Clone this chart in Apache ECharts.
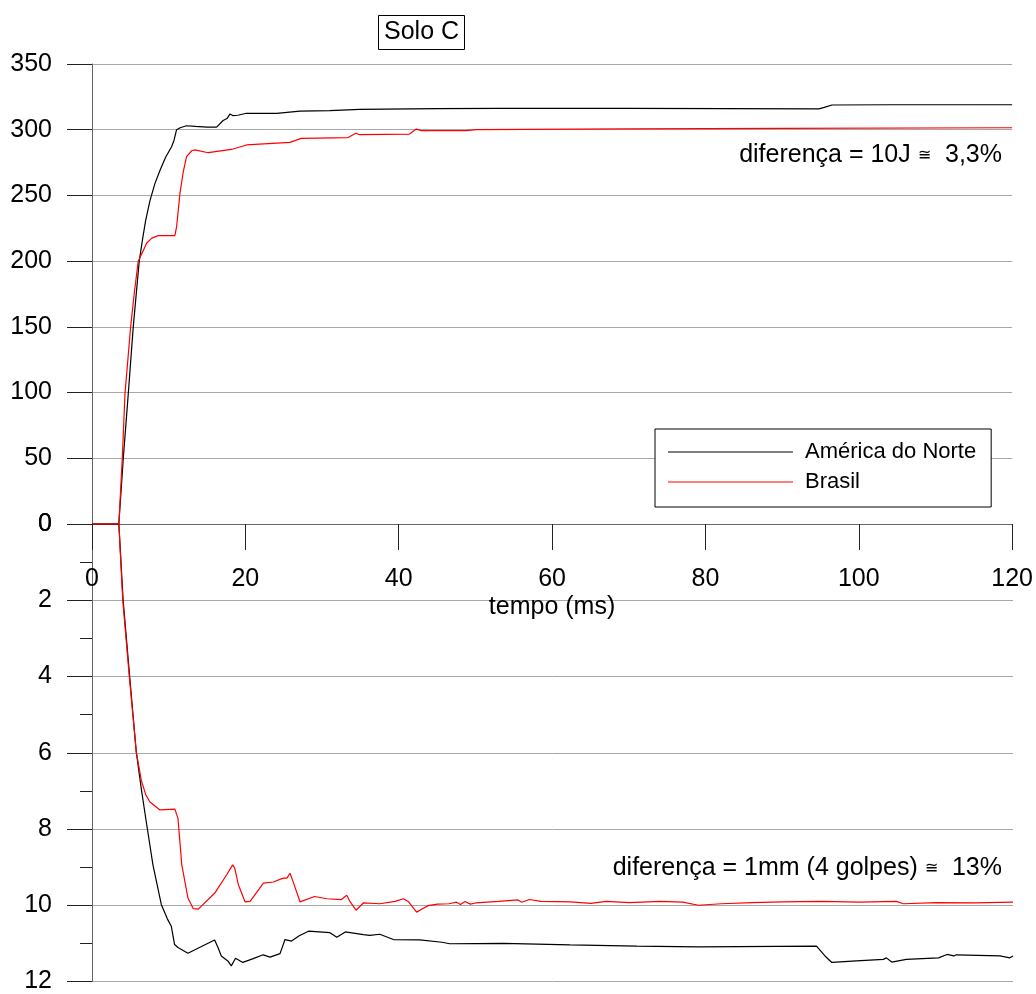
<!DOCTYPE html>
<html>
<head>
<meta charset="utf-8">
<script src="https://cdn.jsdelivr.net/npm/echarts@6/dist/echarts.min.js"></script>
<style>
html,body{margin:0;padding:0;background:#fff;}
#chart{width:1036px;height:994px;}
</style>
</head>
<body>
<div id="chart"></div>
<script>
// ---- Data ----
const seriesNames = ['América do Norte', 'Brasil'];
const xTicks = [0, 20, 40, 60, 80, 100, 120];
const energyTicks = [0, 50, 100, 150, 200, 250, 300, 350];
const dispTicks = [0, 2, 4, 6, 8, 10, 12];

// Energy (top panel), América do Norte
const naTopT = [0, 3.5, 4.08, 4.73, 5.38, 6.16, 6.6, 7.0, 7.56, 8.2, 8.86, 9.6, 10.38, 10.7, 11.03, 11.5, 12.33, 13.5, 15, 16.25, 16.46, 17.1, 17.6, 18.0, 18.4, 19, 20.15, 24.1, 27.1, 31, 34.9, 45, 53.2, 70, 94.8, 95.5, 96.5, 104, 120];
const naTopV = [0, 0, 50, 99, 150, 200, 217, 231, 246, 259, 269, 279, 287, 292, 300, 301.5, 303, 302.5, 302, 302, 302.3, 307, 308.5, 312, 310.7, 311, 312.5, 312.5, 314.2, 314.5, 315.5, 316, 316.3, 316.3, 315.9, 317, 318.8, 319, 319];
// Energy (top panel), Brasil
const brTopT = [0, 3.5, 3.95, 4.3, 5.04, 5.5, 6.03, 6.68, 7.12, 7.8, 8.64, 10.81, 11.03, 11.47, 11.9, 12.33, 13.0, 13.42, 15.16, 18.4, 20.15, 25.8, 27.3, 33.4, 34.4, 34.9, 41.4, 42.3, 42.96, 48.8, 50.1, 70, 90, 120];
const brTopV = [0, 0, 50, 99, 150, 175, 200, 208, 213.6, 217.5, 219.4, 219.4, 226, 251.6, 268, 279.5, 284, 284.6, 282.5, 285.3, 288.4, 290.4, 293.4, 294, 297.3, 296.2, 296.7, 300.5, 299.3, 299.3, 300, 300.6, 301, 301.5];

// Displacement (bottom panel), América do Norte
const naBotT = [0, 3.5, 4.05, 4.9, 5.77, 6.42, 7.07, 7.94, 9.03, 9.8, 10.33, 10.76, 11.2, 12.5, 14.2, 15.98, 16.4, 16.85, 17.7, 18.15, 18.7, 19.65, 21, 22.3, 23.2, 24.5, 25.15, 26, 27, 28.2, 31, 31.9, 33, 35.35, 36.2, 37.5, 39.26, 42.7, 45.6, 46.6, 53.6, 62.3, 71, 79, 94.4, 95.5, 96.4, 99.6, 103.1, 103.5, 104.2, 106.1, 110.3, 111.4, 112.3, 112.6, 118.3, 119.6, 120];
const naBotD = [0, 0, 1.98, 3.98, 5.98, 6.94, 7.81, 8.94, 9.98, 10.35, 10.55, 11.03, 11.11, 11.26, 11.09, 10.91, 11.1, 11.33, 11.46, 11.59, 11.39, 11.5, 11.4, 11.3, 11.36, 11.27, 10.9, 10.94, 10.8, 10.68, 10.72, 10.84, 10.7, 10.77, 10.79, 10.76, 10.9, 10.91, 10.97, 11.01, 11.0, 11.04, 11.07, 11.09, 11.07, 11.33, 11.5, 11.46, 11.42, 11.38, 11.49, 11.42, 11.38, 11.29, 11.33, 11.3, 11.33, 11.38, 11.33];
// Displacement (bottom panel), Brasil
const brBotT = [0, 3.5, 4.0, 4.85, 5.77, 6.42, 7.0, 7.55, 8.86, 10.8, 11.2, 11.7, 12.5, 13.2, 13.85, 16, 17.55, 18.33, 18.6, 19.07, 19.94, 20.6, 22.33, 23.63, 24.9, 25.4, 25.8, 26.2, 27.1, 29, 30.6, 32.5, 33.2, 33.6, 34.4, 35.35, 37.5, 39.5, 40.56, 41.2, 42.3, 43.0, 43.8, 45, 46.5, 47.5, 48, 48.6, 49.3, 50, 53, 55.5, 56, 57, 58.5, 62.3, 65, 67, 70, 74, 77, 79, 82, 86, 90, 95, 100, 104.8, 105.7, 110, 115, 120];
const brBotD = [0, 0, 1.98, 3.98, 5.98, 6.72, 7.1, 7.29, 7.5, 7.48, 7.72, 8.94, 9.81, 10.09, 10.1, 9.68, 9.2, 8.94, 9.03, 9.46, 9.91, 9.9, 9.42, 9.39, 9.29, 9.29, 9.16, 9.38, 9.91, 9.77, 9.83, 9.85, 9.74, 9.9, 10.13, 9.94, 9.96, 9.9, 9.83, 9.9, 10.18, 10.1, 10.01, 9.97, 9.96, 9.92, 9.98, 9.9, 9.97, 9.94, 9.9, 9.86, 9.92, 9.85, 9.9, 9.91, 9.95, 9.9, 9.93, 9.9, 9.92, 10.0, 9.96, 9.93, 9.91, 9.9, 9.92, 9.9, 9.96, 9.93, 9.94, 9.92];

const zip = (a, b) => a.map((v, i) => [v, b[i]]);
const FONT = '"Liberation Sans", Arial, sans-serif';
const GRID_COLOR = '#a8a8a8';
const AXIS_COLOR = '#666666';
const TICK_COLOR = '#222222';

const lineSeries = (name, xi, yi, data, color) => ({
  name, type: 'line', xAxisIndex: xi, yAxisIndex: yi,
  data, showSymbol: false, symbol: 'none',
  lineStyle: {color, width: 1.2}, itemStyle: {color}
});

const chart = echarts.init(document.getElementById('chart'), null, {renderer: 'canvas'});
chart.setOption({
  animation: false,
  backgroundColor: '#ffffff',
  textStyle: {fontFamily: FONT},
  title: {
    text: 'Solo C',
    left: 378, top: 15,
    padding: [5, 6, 5, 6],
    borderColor: '#000', borderWidth: 1,
    textStyle: {fontSize: 25, fontWeight: 'normal', color: '#000', fontFamily: FONT}
  },
  legend: {
    data: seriesNames,
    orient: 'vertical',
    left: 655, top: 429,
    padding: [12, 15, 14, 13],
    borderColor: '#000', borderWidth: 1,
    backgroundColor: '#fff',
    icon: 'rect',
    itemWidth: 125, itemHeight: 1.2,
    itemGap: 8,
    textStyle: {fontSize: 22, color: '#000', fontFamily: FONT, lineHeight: 22, padding: [0, 0, 0, 7]}
  },
  grid: [
    {left: 92, top: 64, width: 921, height: 460, containLabel: false},
    {left: 92, top: 524, width: 921, height: 461, containLabel: false}
  ],
  xAxis: [
    {
      type: 'value', gridIndex: 0, min: xTicks[0], max: xTicks[xTicks.length - 1], interval: 20,
      position: 'bottom',
      name: 'tempo (ms)', nameLocation: 'middle', nameGap: 71,
      nameTextStyle: {fontSize: 25, color: '#000', fontFamily: FONT},
      axisLine: {show: true, onZero: false, lineStyle: {color: AXIS_COLOR, width: 1}},
      axisTick: {show: true, inside: false, length: 26, lineStyle: {color: TICK_COLOR}},
      axisLabel: {show: true, margin: 43, fontSize: 25, color: '#000', fontFamily: FONT},
      splitLine: {show: false}
    },
    {
      type: 'value', gridIndex: 1, min: xTicks[0], max: xTicks[xTicks.length - 1], interval: 20,
      show: false
    }
  ],
  yAxis: [
    {
      type: 'value', gridIndex: 0, min: energyTicks[0], max: energyTicks[energyTicks.length - 1], interval: 50,
      axisLine: {show: true, lineStyle: {color: AXIS_COLOR, width: 1}},
      axisTick: {show: true, length: 25, lineStyle: {color: TICK_COLOR}},
      axisLabel: {margin: 40, fontSize: 25, color: '#000', fontFamily: FONT},
      splitLine: {show: true, lineStyle: {color: GRID_COLOR, width: 1}}
    },
    {
      type: 'value', gridIndex: 1, inverse: true, min: dispTicks[0], max: dispTicks[dispTicks.length - 1], interval: 2,
      axisLine: {show: true, onZero: false, lineStyle: {color: AXIS_COLOR, width: 1}},
      axisTick: {show: true, length: 25, lineStyle: {color: TICK_COLOR}},
      minorTick: {show: true, splitNumber: 2, length: 12, lineStyle: {color: TICK_COLOR}},
      axisLabel: {margin: 40, fontSize: 25, color: '#000', fontFamily: FONT},
      splitLine: {show: true, lineStyle: {color: GRID_COLOR, width: 1}}
    }
  ],
  graphic: [
    {
      type: 'text', right: 34, top: 143, z: 100,
      style: {
        text: 'diferença = 10J {s|≅}  3,3%',
        font: '25px "Liberation Sans", Arial, sans-serif', fill: '#000',
        rich: {s: {fontSize: 16, fontFamily: '"DejaVu Sans", sans-serif', fill: '#000'}}
      }
    },
    {
      type: 'text', right: 34, top: 856, z: 100,
      style: {
        text: 'diferença = 1mm (4 golpes) {s|≅}  13%',
        font: '25px "Liberation Sans", Arial, sans-serif', fill: '#000',
        rich: {s: {fontSize: 16, fontFamily: '"DejaVu Sans", sans-serif', fill: '#000'}}
      }
    }
  ],
  series: [
    lineSeries(seriesNames[0], 0, 0, zip(naTopT, naTopV), '#000000'),
    lineSeries(seriesNames[1], 0, 0, zip(brTopT, brTopV), '#ff0000'),
    lineSeries(seriesNames[0], 1, 1, zip(naBotT, naBotD), '#000000'),
    lineSeries(seriesNames[1], 1, 1, zip(brBotT, brBotD), '#ff0000')
  ]
});
</script>
</body>
</html>
